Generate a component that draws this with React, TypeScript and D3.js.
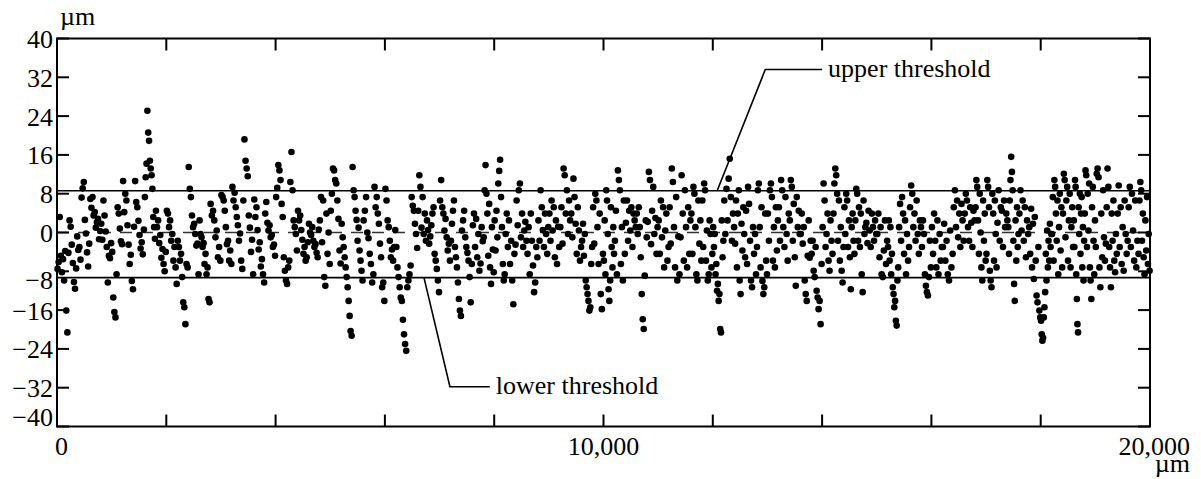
import { scaleLinear } from "d3";

// profile deviation (µm) in 200 µm groups, 2000 µm per segment
const seg0 = [
  [-7.5, -6.1, 3.2, -4.8, -8.2, -5.5, -9.9, -3.8, -16.1, -20.6],
  [-4.2, 2.5, 1.2, -2.5, -6.3, -10.2, -11.6, -7.4, -0.8, -3.6],
  [-3, -5.6, 7.2, 9.1, 10.4, 2.6, -0.2, -4.1, -7, -2.3],
  [6.9, 5.1, 7.3, 3.5, 4.2, 1, 2.1, 2.8, -1.4, 0.3],
  [1.8, -1.5, 6.6, 3.5, 0.2, -3, -10.3, -4.8, -5.3, -2.2],
  [-4, -13.4, -16.4, -17.5, -8.6, 5.2, 3.9, 0.8, -1.8, -2.4],
  [10.6, 4.2, 8, 6.6, 1.5, -2.5, -6.5, -4.6, -10, -11.7],
  [1.2, 10.6, 6.3, 5.2, 2.4, -0.5, -3.3, -2, -4.5, 0.6],
  [7.3, 11.4, 14.2, 25.1, 20.6, 18.9, 14.8, 13.2, 11.8, 9, 3.2, 1.1, -1.3],
  [4.5, 1.1, 2.5, -2.2, -0.5, -5.2, -3.4, -6.5, -8, -4],
];
const seg1 = [
  [4.5, 3.9, 1.1, 2.5, -1.7, -0.3, -5.8, -3, -7.2, -10.6],
  [-1.7, -3, -5.8, -4.4, -9.2, -14.4, -15.4, -18.9, -6.5, -7.2],
  [13.5, 9, 7.3, 3.5, 1.1, 1.8, -0.3, -2.7, -2.3, -8.6],
  [2.5, -0.3, -1, -3, -2.2, -6.5, -4.4, -8.6, -7.2, -13.7, -14.4],
  [5.9, 3.5, 4.5, 2.5, -1, 0.4, -5.1, -3, -5.8],
  [7.7, 7.3, 6.6, 4.5, 1.1, -2.4, -1.7, -5.8, -3.7, -6.5],
  [9.4, 6.6, 8.2, 5.2, 3.2, 1.5, -1.7, -0.2, -5.8, -7.5],
  [6.6, 19.2, 14.8, 13.2, 11.6, 3.5, 1, -4, -1.5, -8.6],
  [6.8, 3.2, 5.2, 0.5, -3.5, -2, -7, -5.5, -8.6, -10.3],
  [3.9, 6.3, 2, 0.4, 1.5, -1, -0.5, -3, -2.5, -4.8],
];
const seg2 = [
  [7.3, 9.2, 13.9, 12.8, 10.8, 5.9, 3.2, -5.1, -7.9, -9.9],
  [-10.6, -7.2, -5.8, 10.4, 16.6, 8.7, 2.5, 1.1, -0.3, -3.7],
  [4.5, 2.5, 3.5, 0.5, -1.5, -4.4, -3, -5.8, -5.1, -2],
  [1.8, 0, -0.5, 1.1, -1.7, -3, -2.4, -4.2, -5.1, 0.6],
  [2.5, 7.3, -2, 6.6, -9.2, -11, 3.9, -4.4, 0, -6.5],
  [4.5, 8, 13.2, 12.8, 10.8, 10.1, 6.6, 2.8, -3.7, -6.4],
  [1.8, -1, -3, -5.1, -7.2, -9.2, -11.3, -14.1, -17.2, -20.3, -21.3],
  [13.5, 8.7, 7.3, 4.5, 2.6, -1.7, 1, -3.7, -5.8, -7.9, -9.9],
  [2.5, 4.5, 7.3, 0, -1.2, -4.4, -6.5, -10.3, -8.6],
  [9.4, 5.2, 7.3, 3.9, 1.8, -2.3, -5.1, -11.3, -10.3, -14.1],
];
const seg3 = [
  [9, 6.6, 2.5, 1.1, -1.7, -5.1, -3.5, -5.8, -3, 0.5],
  [-3, -7.2, -9.2, -11.3, -13.4, -14.1, -18, -21, -23, -24.4],
  [-11.3, -9.9, -8.6, -6.8, 7.3, 5.5, 4.5, 1.8, -0.3, -3.2],
  [4.5, 11.8, 9.4, 1, 7.3, -0.3, 3.9, -1.7, 2.5, 0.5],
  [-2.3, -0.8, 1.5, 3.9, 5.2, -4.4, -5.8, -7.5, -9.9, -12.3],
  [6.6, 10.8, 5.2, 3.9, 0.4, 2.8, -1, -3.7, -2.3, -5.8],
  [-1.7, 1.8, 4.5, 6.6, -3, -5.1, -7.2, -10.3, -13.7, -16.1, -17.2],
  [0.4, 2.5, 4.5, -1, -3, -4.2, -5.8, -9.2, -14.4, -6.5],
  [1.5, 3.9, -3, 2.8, -5.1, -0.3, -7.9, -6.4, 1.1, -1.8],
  [-1, 8.7, 13.9, 8, 3.9, -4.8, 5.9, -7.2, -10.6, 1.1, -3.5, -8.2],
];
const seg4 = [
  [2.5, -3.7, 4.5, -1, 10.1, 12.7, 15, 7.3, 1.1, -6.5, -9.9, -8.6],
  [-0.3, 3.9, -3, 2.5, -6.5, -1.7, -9.9, -14.8, -4.4, -2.5],
  [6.6, 1.5, 8.7, 10.1, -1, 3.9, -3, 0.4, 2.2, -1.7],
  [-4.4, 1.1, -8.6, 3.9, -1.7, -6.8, -12.3, -10.3, -3, -5.1],
  [2.5, -1.7, 8.7, 5.2, 0.5, -3, 3.9, -0.3, -4.4, 1.1],
  [3.9, -1.7, 6.6, 0.4, 5.2, -5.1, 2.5, -6.5, 1.2, -3],
  [1.1, 5.2, -2.3, 13.2, 11.8, 3.9, 8.7, -0.3, 6.6, 2.5],
  [3.9, -1, 11.1, 7.3, 1.8, -4.4, 5.2, 0.4, -5.8, -3],
  [-1.7, 1.8, -4.8, -0.3, -9.9, -11.3, -12.7, -14.1, -16.1, -15.4, -6.5, -3],
  [5.2, -2.3, 8, 6.6, 1.1, -6.5, 3.9, -12.7, -15.8, -4.4],
];
const seg5 = [
  [-5.8, 2.5, -8.6, 8.7, 6.6, -0.3, -11.7, -14.1, -9.9, 5.2, -3, -7.2, 1.1, -4.4],
  [-1.7, 4.5, -8.6, 12.8, 10.8, 8.7, -6.5, 1.1, -9.9, 6.6, -4.4],
  [2, 6.6, -1.7, 4.5, 0.4, 5.2, -3, 3.9, 2.5, 1.1],
  [3.9, -0.3, 5.2, 1.1, -5.1, -12.7, -17.9, -19.9, -8.9, 2.5, -1],
  [2.2, 12.5, 10.8, -2.4, 4.5, 9.4, -0.3, 3, -4.4, 1.1],
  [2.5, -4.4, 6.6, -1, 5.2, -7.2, 0.4, 3.9, -5.8, -3],
  [5.2, -2.3, 13.2, 10.4, 1.1, -7.2, 7.3, -9.9, -0.8, -8.6],
  [-1, 11.8, 3.9, -5.8, 8.7, 1.1, -7.2, 5.2, -4.4, 2.5],
  [3.9, -4.4, 9.4, 8, 1.1, -8.6, -9.9, 6.6, -2.3, 2.5, -5.8],
  [6.6, -3, 10.1, 8.7, -5.8, 0.4, -9.9, -8.6, 2.5, -0.3, -7.2, -4.4],
];
const seg6 = [
  [1.1, -3, -0.3, -8.6, -6.5, -12, -10.6, -14.1, -12.7, -19.9, -20.6, 2.5, -5.1, -1.7],
  [6.6, -0.3, 9, 2.5, 11.1, 15.2, 7.3, -1.7, 3.9, 1.1],
  [-2.3, 6.6, -7.2, 3.9, 8.7, -9.9, -12.7, 1.8, -3.7, 5.2, -0.3, -5.1],
  [4.5, -6.5, 9.4, 5.9, -1.7, -9.9, -11.3, 1.1, -4.4, -0.3, -8.6],
  [-3, 8.7, 10.1, 1.1, -7.2, 5.2, -10, -12.7, -11.3, 3.9, -5.8, -8.6],
  [3.9, -1.7, 8.7, 10.1, 7.3, -5.8, 1.1, -7.2, 5.2, -3.7, 2.5],
  [5.2, -1.7, 10.8, 8.7, 1.1, -3, 7.3, -0.3, -5.8, 3.9],
  [2.5, 10.8, 9.4, -1.7, 5.9, -5.1, -11, 7.3, 1.1, 4.5, -0.3],
  [-0.3, 3.9, -2.3, 1.1, -9.9, -12.7, -14.1, -4.8, 2.5, -5.2, -1.7],
  [-4.4, -1.7, -7.9, -9.2, -3, -12, -13.4, -15.8, -14.1, -18.9, -6.5],
];
const seg7 = [
  [1.1, 10.1, 6.6, -3, -0.3, 3.9, -5.8, -7.9, 2.5, -1.7, -4.4],
  [3.9, 10.1, 13.2, 11.8, 8, -1.7, 6.6, -5.8, 1.1, -7.9, -10.3, -3],
  [5.2, -0.3, 8, 6.6, -3, 2.5, -5.1, -11.7, 1.1, 3.9, -1.7, -4.4],
  [2.5, 9, 8, -1.7, 5.2, -3, 3.9, -8.6, -12.3, 6.6, -0.3, 1.1],
  [2, -2.2, 4.5, 0.4, -3, 3.9, 1.1, -1.7, 2.5, -0.3],
  [-0.3, 3.9, -5.1, 1.1, -8.6, -9.2, -3.7, 2.5, -6.5, -1.7],
  [-3, 2.5, -5.8, 1.1, -8.6, -4.4, -11.3, -12.7, -15.4, -14.1, -18.2, -19.2, -9.9, -7.2],
  [1.1, 5.9, -1.7, 7.3, 3.9, -4.4, 2.5, -8.6, -0.3, -5.8, -3],
  [5.2, 9.7, 8, 1.1, 3.9, -1.7, 6.6, -0.3, -4.4, 2.5],
  [1.1, -3, 2.5, -0.3, -8.6, -11, -12.3, -13, -9.2, -1.7, -7.2],
];
const seg8 = [
  [1.1, -4.4, 3.9, -1.7, -7.2, 2.5, -8.6, -0.3, -5.8, -3],
  [-3, 1.8, -5.8, -1.7, -8.6, -9.9, 0.4, -7.2, -4.4],
  [5.2, 8.7, 1.1, 6.6, -1, 3.9, -3, 5.9, 2.5, -1.7],
  [3.9, 8, 6.6, 1.1, -1.7, 5.2, 2, -3, 4.5, 2.5],
  [5.2, 10.8, 9.4, 2.5, -4.4, 8, 0, -7.2, -9.9, 6.6, -1.7, 3.9, -5.8],
  [-4.4, 10.8, 9.4, 5.2, -7.9, -9.9, -11.3, 8, 3.9, -5.8, 6.6, -0.3, -7.2],
  [2, 8.7, -1.7, 5.2, 4.5, -3, 6.6, 1.1, 3.9, 2.5],
  [1.1, -4.4, 6.6, 10.8, 15.6, 12.5, 8.7, -1.7, -10.6, -14.1, 2.5, -5.8, 5.2, -3, -0.3],
  [3.9, 8.7, 0.4, 6.6, -1.7, 5.2, -5.1, 2.5, -0.3, 1.1],
  [-4.4, 4.9, -7.2, 1.8, -9.6, 3.2, -5.8, -13, -14.4, -3, -16.1, -17.5],
];
const seg9 = [
  [-18.2, -21, -22.3, -21.7, -17.5, -15.4, -12.3, -4.4, -9.9, 0.4, -7.2, -1.7, -5.8, 1.8, -3, -0.3],
  [-0.3, 7.3, -5.8, 10.8, 9.4, 3.9, -1.7, 6.6, -8.6, 1.1, 8, -3.7, 5.2, -7.2],
  [3.9, 12.1, 10.8, -1, 6.6, 9.4, -5.8, 2.5, 8, -7.2, 1.1, 5.2, -3],
  [2.5, -3, 10.8, 9.4, -8.6, -13.7, -18.9, -20.6, 5.2, -0.3, 8, -4.4, 3.9, 7.3, -7.2, 1.1, -9.9, -1.7],
  [3.9, 12.8, 11.8, -3, 8, 0.4, 10.1, -7.2, -9.9, -13.7, 5.2, 9.4, -1.7, -8.6, 2.5],
  [-3, 12.1, 13.2, 11.4, -7.2, -11.3, 3.9, -5.1, 8.7, -1, -5.8, -2.3],
  [5.2, 13.2, 9.4, -3, -7.2, -11.3, 3.9, -1.7, 6.6, -5.8, -8.2, -0.3, -4.4],
  [3.9, 9.7, -3, 5.2, -6.5, 1.1, -7.9, 6.6, -0.3, -4.4, -1.7],
  [5.2, 9.4, -3, 8, 0.4, -5.8, 6.6, -7.2, -1.7, -4.4],
  [6.6, 10.4, 8.7, -1.7, 3.9, -5.1, -8.6, 2.5, -3.7, 7.3, -6.5, -0.3, -7.9],
];
const segments = [seg0, seg1, seg2, seg3, seg4, seg5, seg6, seg7, seg8, seg9];
const SEG_LEN = 2000;

const yTicks = [40, 32, 24, 16, 8, 0, -8, -16, -24, -32, -40];
const xTicks = [0, 2000, 4000, 6000, 8000, 10000, 12000, 14000, 16000, 18000, 20000];
const xLabels = [0, 10000, 20000];

const UPPER = 8.6;
const LOWER = -9.3;
// leader lines for the threshold notes, in data units
const upperLeader = [[12080, UPPER], [12960, 33.6], [14000, 33.6]];
const lowerLeader = [[6715, LOWER], [7190, -31.8], [7920, -31.8]];

const FONT = "'Liberation Serif', 'Times New Roman', serif";

export default function App() {
  const W = 1201;
  const H = 479;
  const x = scaleLinear().domain([0, 20000]).range([57, 1150]);
  const y = scaleLinear().domain([-40, 40]).range([426.5, 38.5]);
  const [x0, x1] = x.range();
  const [yb, yt] = y.range();
  const tick = 12;

  const points = segments.flatMap((seg, s) =>
    seg.flatMap((grp, g) => {
      const w = SEG_LEN / seg.length;
      return grp.map((v, j) => ({
        px: s * SEG_LEN + g * w + ((j + 0.5) * w) / grp.length,
        py: v,
      }));
    })
  );

  const fmt = (v: number) => (v < 0 ? "\u2212" + Math.abs(v) : String(v));
  const fmtX = (v: number) => v.toLocaleString("en-US");
  const path = (pts: number[][]) =>
    pts.map((p, i) => (i ? "L" : "M") + x(p[0]) + "," + y(p[1])).join("");
  // label baseline offsets as they sit in the picture
  const yLabelDy = (t: number) => (t === -40 ? -1 : t === -8 ? 18 : 9.5);

  return (
    <svg
      width={W}
      height={H}
      style={{ position: "absolute", left: 0, top: 0, background: "#fff" }}
      fontFamily={FONT}
    >
      {/* zero line */}
      <line x1={x0} x2={x1} y1={y(0)} y2={y(0)} stroke="#333" strokeWidth={1.5} strokeDasharray="12 9" />
      {/* thresholds */}
      <line x1={x0} x2={x1} y1={y(UPPER)} y2={y(UPPER)} stroke="#000" strokeWidth={1.6} />
      <line x1={x0} x2={x1} y1={y(LOWER)} y2={y(LOWER)} stroke="#000" strokeWidth={1.6} />

      {points.map((d, i) => (
        <circle key={i} cx={x(d.px)} cy={y(d.py)} r={3.3} fill="#000" />
      ))}

      {/* frame */}
      <rect x={x0} y={yt} width={x1 - x0} height={yb - yt} fill="none" stroke="#000" strokeWidth={2} />
      {yTicks.map((t) => (
        <g key={"y" + t}>
          <line x1={x0} x2={x0 + tick} y1={y(t)} y2={y(t)} stroke="#000" strokeWidth={2} />
          <line x1={x1 - tick} x2={x1} y1={y(t)} y2={y(t)} stroke="#000" strokeWidth={2} />
          <text x={x0 - 4} y={y(t) + yLabelDy(t)} textAnchor="end" fontSize={26}>
            {fmt(t)}
          </text>
        </g>
      ))}
      {xTicks.map((t) => (
        <g key={"x" + t}>
          <line x1={x(t)} x2={x(t)} y1={yt} y2={yt + tick} stroke="#000" strokeWidth={2} />
          <line x1={x(t)} x2={x(t)} y1={yb - tick} y2={yb} stroke="#000" strokeWidth={2} />
        </g>
      ))}
      {xLabels.map((t, i) => (
        <text
          key={"xl" + t}
          x={i === 0 ? x(t) - 2 : i === xLabels.length - 1 ? x(t) + 40 : x(t)}
          y={yb + 28.5}
          textAnchor={i === 0 ? "start" : i === xLabels.length - 1 ? "end" : "middle"}
          fontSize={26}
        >
          {fmtX(t)}
        </text>
      ))}
      <text x={x0 + 3} y={yt - 14} fontSize={26}>µm</text>
      <text x={x1 + 40} y={yb + 45} textAnchor="end" fontSize={26}>µm</text>

      {/* annotations */}
      <path d={path(upperLeader)} fill="none" stroke="#000" strokeWidth={1.6} />
      <text x={x(upperLeader[2][0]) + 6} y={y(upperLeader[2][1]) + 7} fontSize={26}>
        upper threshold
      </text>
      <path d={path(lowerLeader)} fill="none" stroke="#000" strokeWidth={1.6} />
      <text x={x(lowerLeader[2][0]) + 6} y={y(lowerLeader[2][1]) + 7} fontSize={26}>
        lower threshold
      </text>
    </svg>
  );
}
